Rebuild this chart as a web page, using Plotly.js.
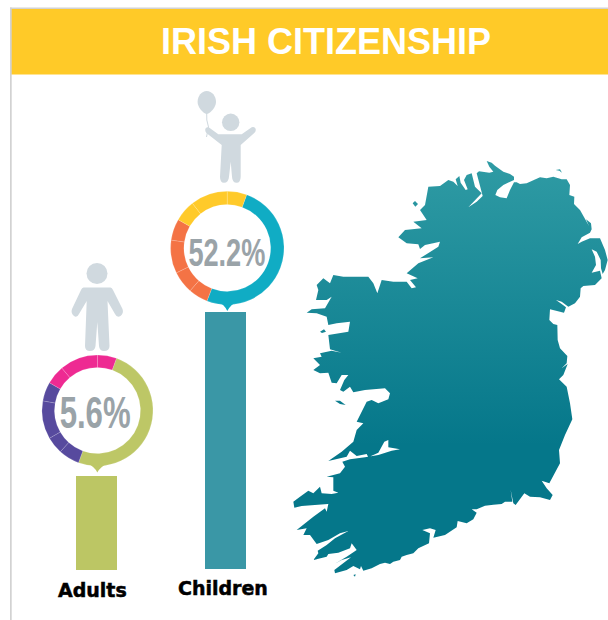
<!DOCTYPE html>
<html><head><meta charset="utf-8">
<script src="https://cdn.plot.ly/plotly-3.0.1.min.js"></script>
<style>html,body{margin:0;padding:0;background:#fff}</style></head>
<body><div id="chart" style="width:608px;height:620px"></div>
<script>
var titleText = 'IRISH CITIZENSHIP';
var categories = ['Adults', 'Children'];
var percentLabels = ['5.6%', '52.2%'];
var barCentres = [96.5, 225.5];
var barHeights = [94, 257];
var barBases = [0, 1];
var barColours = ['#bcc664', '#3a97a6'];

var adultRing = [180, 22, 18, 40, 20, 20, 40, 20];
var adultColours = ['#bdc766', '#574a9e', '#574a9e', '#574a9e', '#574a9e', '#ee2a92', '#ee2a92', '#ee2a92'];
var childRing = [181, 20, 23, 34, 22, 22, 38, 20];
var childColours = ['#10acc4', '#f47345', '#f47345', '#f47345', '#f47345', '#ffca2a', '#ffca2a', '#ffca2a'];

// Outline, north part (zoom units of the crop at 290,150)
var northOutline = [[590,33],[605,38],[615,47],[640,65],[660,72],[672,80],[672,90],[640,105],[622,120],[616,135],[630,142],[650,145],[660,120],[672,97],[680,97],[690,102],[710,100],[730,92],[750,82],[770,85],[790,80],[815,88],[830,88],[840,105],[838,135],[853,140],[852,162],[870,180],[885,205],[897,228],[888,208],[903,220],[905,238],[900,248],[875,262],[863,282],[875,275],[900,265],[930,265],[945,300],[953,330],[945,360],[938,372],[933,355],[932,330],[920,305],[905,298],[915,320],[918,345],[905,368],[930,362],[935,385],[915,405],[880,408],[872,415],[870,440],[855,460],[835,470],[815,455],[798,450],[815,462],[828,472],[822,488],[780,478],[778,510],[790,522],[802,525],[803,570],[810,595],[832,618],[830,640],[815,655]];
// South part (zoom units of the crop at 285,360)
var southOutline = [[848,12],[835,45],[822,58],[845,80],[855,130],[862,178],[840,225],[822,270],[825,310],[797,360],[793,370],[770,362],[785,385],[803,405],[795,420],[765,412],[735,410],[718,400],[705,418],[692,435],[685,430],[677,390],[682,425],[660,425],[650,432],[625,434],[600,437],[575,448],[560,448],[575,458],[565,478],[545,490],[518,483],[515,502],[495,515],[480,525],[445,533],[452,510],[435,505],[412,510],[435,520],[432,550],[400,565],[385,580],[365,585],[350,590],[345,600],[325,605],[315,612],[300,608],[285,612],[260,625],[235,632],[228,618],[225,628],[205,618],[185,630],[170,635],[150,640],[148,630],[198,592],[170,600],[148,612],[185,590],[215,570],[200,550],[195,565],[160,578],[130,582],[125,590],[85,600],[100,580],[98,572],[125,555],[150,535],[190,513],[165,520],[130,540],[95,552],[75,525],[55,525],[65,505],[35,510],[60,490],[85,470],[120,445],[125,455],[130,432],[158,430],[120,433],[85,435],[50,438],[28,443],[25,425],[45,410],[70,392],[85,400],[105,380],[110,400],[140,402],[160,398],[145,392],[145,352],[125,350],[165,340],[180,320],[172,305],[195,298],[240,292],[280,285],[320,272],[345,268],[310,262],[310,240],[298,245],[280,278],[250,292],[245,282],[215,288],[195,272],[185,290],[130,303],[170,275],[205,245],[215,210],[235,190],[215,185],[245,125],[260,120],[280,130],[310,118],[315,100],[300,85],[240,90],[205,97],[195,80],[175,95],[165,90],[178,60],[190,45],[170,45],[155,70],[140,68],[130,38],[105,40],[85,30],[105,15],[90,0]];
// West coast back up to the start (zoom units of the crop at 290,150)
var westOutline = [[70,625],[95,620],[90,610],[125,602],[155,608],[120,598],[115,555],[175,545],[180,515],[140,520],[115,525],[110,500],[80,490],[50,488],[65,478],[105,475],[125,440],[110,450],[78,450],[85,420],[80,405],[100,385],[120,400],[130,375],[160,380],[235,380],[250,400],[262,430],[275,390],[310,395],[350,395],[365,415],[378,412],[360,390],[383,385],[350,370],[385,340],[430,322],[390,325],[445,290],[450,275],[405,285],[390,297],[385,283],[350,280],[325,262],[345,240],[395,235],[370,215],[410,210],[390,180],[405,165],[415,110],[450,108],[475,90],[490,95],[503,108],[497,88],[508,78],[512,98],[527,120],[533,118],[522,90],[530,75],[545,70],[555,110],[575,130],[535,172],[560,155],[578,138],[560,70],[567,64],[598,68],[610,65],[598,50]];
var northIslands = [[[368,160],[375,153],[384,162],[376,170]], [[797,60],[810,58],[816,68],[808,62]], [[90,545],[102,538],[108,545],[96,549]]];
var southIslands = [[[150,122],[165,122],[182,135],[165,132]], [[205,645],[212,643],[210,650]]];

var mapX = [], mapY = [];
function addNorth(p){ mapX.push(290 + p[0] / 3); mapY.push(150 + p[1] / 3); }
function addSouth(p){ mapX.push(285 + p[0] / 3); mapY.push(360 + p[1] / 3); }
function gap(){ mapX.push(null); mapY.push(null); }
northOutline.forEach(addNorth); southOutline.forEach(addSouth); westOutline.forEach(addNorth);
addNorth(northOutline[0]);
northIslands.forEach(function(s){ gap(); s.forEach(addNorth); addNorth(s[0]); });
southIslands.forEach(function(s){ gap(); s.forEach(addSouth); addSouth(s[0]); });

var W = 608, H = 620;
function ringDomain(cx, cy, r){
  return { x: [(cx - r) / W, (cx + r) / W], y: [1 - (cy + r) / H, 1 - (cy - r) / H] };
}
function ring(vals, cols, cx, cy, r, hole){
  return { type: 'pie', values: vals, sort: false, direction: 'clockwise', rotation: 20, hole: hole,
    domain: ringDomain(cx, cy, r), textinfo: 'none', hoverinfo: 'skip', showlegend: false,
    marker: { colors: cols, line: { color: 'rgba(255,255,255,0.3)', width: 0.5 } } };
}
var traces = [
  { type: 'bar', x: barCentres, y: barHeights, base: barBases, width: 41, yaxis: 'y2',
    marker: { color: barColours, line: { width: 0 } }, hoverinfo: 'skip', showlegend: false },
  { type: 'scatter', mode: 'lines', x: mapX, y: mapY, fill: 'toself', line: { width: 0, color: '#0b7b8c' },
    fillgradient: { type: 'vertical', start: 160, stop: 445,
      colorscale: [[0, '#2f9ba4'], [1, '#05778a']] }, hoverinfo: 'skip', showlegend: false },
  ring(adultRing, adultColours, 97.5, 410.5, 55.5, 0.775),
  ring(childRing, childColours, 227.3, 248, 56.7, 0.765)
];

var grey = '#d0d9df';
var shapes = [
  { type: 'rect', xref: 'x', yref: 'y', x0: 11, x1: 608, y0: 9, y1: 74.5, fillcolor: '#ffca28', line: { width: 0 }, layer: 'below' },
  { type: 'rect', xref: 'x', yref: 'y', x0: 10, x1: 608, y0: 7.5, y1: 9, fillcolor: '#d2d2d2', line: { width: 0 } },
  { type: 'rect', xref: 'x', yref: 'y', x0: 10, x1: 11.7, y0: 7.5, y1: 620, fillcolor: '#d2d2d2', line: { width: 0 } },
  { type: 'circle', xref: 'x', yref: 'y', x0: 86.5, x1: 107.5, y0: 263, y1: 284, fillcolor: grey, line: { width: 0 } },
  { type: 'path', xref: 'x', yref: 'y', fillcolor: grey, line: { width: 0 },
    path: 'M83.5,287.5 L110.5,287.5 Q112,287.5 113,290 L122.5,309 Q124,313 120.5,316 Q117,318 115,314 L107.5,301 L109.5,346 Q109.5,351 104,351 Q99.5,351 99,346 L97.3,322 L95.5,346 Q95,351 90,351 Q85,351 85,346 L86.7,301 L79,314 Q77,318 74,316 Q70.5,313 72,309 L81,290 Q82,287.5 83.5,287.5 Z' },
  { type: 'circle', xref: 'x', yref: 'y', x0: 222, x1: 239.4, y0: 113.6, y1: 131, fillcolor: grey, line: { width: 0 } },
  { type: 'path', xref: 'x', yref: 'y', fillcolor: grey, line: { width: 0 },
    path: 'M209,127.5 L218.3,134.3 L241.7,134.3 L251.7,127.3 Q254,126.5 255.5,128.5 Q256.5,131 254,133.3 L240.7,145 L240.7,176.7 Q240.5,182.7 236.7,182.7 Q232.3,182.7 232,176.7 L230.7,161.7 L229,176.7 Q228.5,182.7 224,182.7 Q220,182.7 220,176.7 L221.7,145 L206.7,133.3 Q204.5,131 205.5,128.5 Q207,126.5 209,127.5 Z' },
  { type: 'path', xref: 'x', yref: 'y', fillcolor: grey, line: { width: 0 },
    path: 'M206.7,91 C212,91 216,96 216,102 C216,107 211,113 206.7,114 C202.5,113 197.6,107 197.6,102 C197.6,96 201.5,91 206.7,91 Z' },
  { type: 'path', xref: 'x', yref: 'y', line: { width: 1, color: grey },
    path: 'M206.7,113 Q206,120 208.5,127 L206.5,137' },
  { type: 'path', xref: 'x', yref: 'y', fillcolor: '#10acc4', line: { width: 0 },
    path: 'M218,302 Q224,304 227.3,311 Q231,304 237,302 Z' },
  { type: 'path', xref: 'x', yref: 'y', fillcolor: '#bdc766', line: { width: 0 },
    path: 'M88,464 Q94,466 97.3,472.5 Q101,466 107,464 Z' }
];

var annotations = [
  { text: percentLabels[0], x: 94.7, y: 412.5, size: 44 },
  { text: percentLabels[1], x: 227, y: 253, size: 38 }
].map(function(a){
  return { text: a.text, x: a.x, y: a.y, xref: 'x', yref: 'y', showarrow: false, xanchor: 'center', yanchor: 'middle',
    font: { family: '"Liberation Sans", sans-serif', weight: 700, size: a.size, color: '#9aa3a8' } };
}).concat([
  { text: categories[0], x: 92.5, y: 590 },
  { text: categories[1], x: 222.5, y: 588 }
].map(function(a){
  return { text: a.text, x: a.x, y: a.y, xref: 'x', yref: 'y', showarrow: false, xanchor: 'center', yanchor: 'middle',
    font: { family: '"DejaVu Sans", sans-serif', weight: 700, size: 19, color: '#000' } };
}));

var layout = {
  width: W, height: H, margin: { l: 0, r: 0, t: 0, b: 0, pad: 0 },
  paper_bgcolor: '#fff', plot_bgcolor: 'rgba(0,0,0,0)', showlegend: false,
  title: { text: '<b>' + titleText + '</b>', x: 326 / W, xanchor: 'center', y: 1 - 41 / H, yanchor: 'middle',
    font: { family: '"Liberation Sans", sans-serif', size: 36, color: '#fff' } },
  xaxis: { range: [0, W], visible: false, fixedrange: true },
  yaxis: { range: [H, 0], visible: false, fixedrange: true },
  yaxis2: { range: [-50, 570], visible: false, overlaying: 'y', fixedrange: true },
  shapes: shapes, annotations: annotations
};
var percentWidths = [71, 77];
Plotly.newPlot('chart', traces, layout, { displayModeBar: false, staticPlot: true }).then(function(){
  var texts = document.querySelectorAll('#chart .annotation-text');
  percentWidths.forEach(function(w, i){
    texts[i].setAttribute('textLength', w);
    texts[i].setAttribute('lengthAdjust', 'spacingAndGlyphs');
  });
  [2, 3].forEach(function(i){
    texts[i].style.stroke = '#000';
    texts[i].style.strokeWidth = '0.5px';
  });
});
</script></body></html>
